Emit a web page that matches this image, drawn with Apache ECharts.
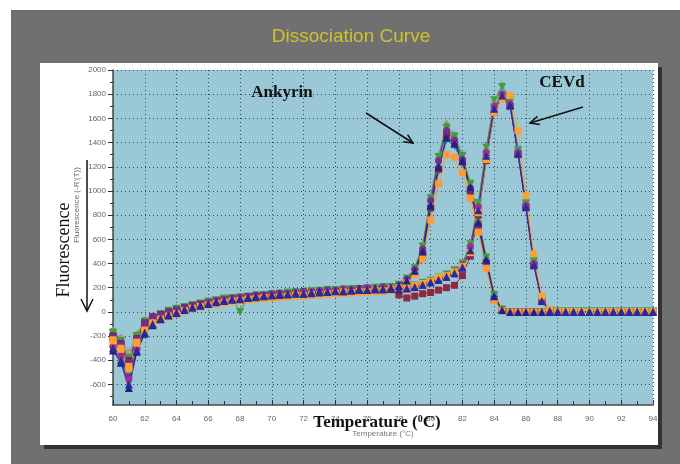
<!DOCTYPE html>
<html><head><meta charset="utf-8">
<script src="https://cdn.jsdelivr.net/npm/echarts@6/dist/echarts.min.js"></script>
<style>html,body{margin:0;padding:0;background:#fff}#c{width:680px;height:464px}</style>
</head><body><div id="c"></div>
<script>
const temps = [60,60.5,61,61.5,62,62.5,63,63.5,64,64.5,65,65.5,66,66.5,67,67.5,68,68.5,69,69.5,70,70.5,71,71.5,72,72.5,73,73.5,74,74.5,75,75.5,76,76.5,77,77.5,78,78.5,79,79.5,80,80.5,81,81.5,82,82.5,83,83.5,84,84.5,85,85.5,86,86.5,87,87.5,88,88.5,89,89.5,90,90.5,91,91.5,92,92.5,93,93.5,94];
const yLabelTicks = [-600,-400,-200,0,200,400,600,800,1000,1200,1400,1600,1800,2000];
const yMinorTicks = [-700,-600,-500,-400,-300,-200,-100,0,100,200,300,400,500,600,700,800,900,1000,1100,1200,1300,1400,1500,1600,1700,1800,1900,2000];

// Ankyrin wells
const ank1 = [-320,-420,-630,-330,-180,-110,-60,-30,-10,20,40,55,70,85,95,105,110,120,130,135,140,150,145,155,150,160,170,165,175,170,180,190,180,195,190,200, 215,260,340,500,880,1200,1440,1390,1250,1030,740,430,130,15,0,0,0,0,0,0, 0,0,0,0,0,0,0,0,0,0,0,0,0];
const ank2 = [-230,-300,-450,-250,-150,-90,-70,-40,-20,10,30,45,55,70,80,90,95,105,110,120,115,125,130,140,135,145,140,150,155,165,160,170,165,180,175,190, 200,240,310,440,760,1060,1300,1280,1150,940,660,360,90,10,0,0,0,0,0,0, 0,0,0,0,0,0,0,0,0,0,0,0,0];
const ank3 = [-280,-360,-540,-300,-140,-80,-40,-20,0,25,45,60,80,95,100,115,120,130,140,135,150,155,150,160,170,165,175,180,175,190,185,195,200,190,205,200, 220,270,350,520,920,1250,1500,1420,1260,1020,720,410,110,10,0,0,0,0,0,0, 0,0,0,0,0,0,0,0,0,0,0,0,0];
const ank4 = [-200,-260,-400,-220,-90,-40,-20,0,15,35,50,65,75,90,100,105,115,125,130,135,140,145,145,150,155,160,160,165,170,170,175,180,185,185,190,190, 210,255,330,480,860,1180,1460,1400,1240,1000,700,400,100,10,0,0,0,0,0,0, 0,0,0,0,0,0,0,0,0,0,0,0,0];
const ank5 = [-170,-240,-380,-200,-80,-50,-20,10,25,40,55,70,85,95,110,115,0,125,135,140,145,150,160,165,165,170,175,180,180,185,190,190,195,200,205,205, 225,275,360,540,940,1280,1520,1450,1290,1060,770,450,140,20,0,0,0,0,0,0, 0,0,0,0,0,0,0,0,0,0,0,0,0];
const ank6 = [-150,-210,-330,-180,-60,-30,-10,15,30,45,60,75,90,100,110,120,125,130,140,145,150,155,160,160,165,170,175,180,185,185,190,195,200,200,205,210, 230,280,370,560,960,1300,1560,1470,1300,1070,780,460,150,20,0,0,0,0,0,0, 0,0,0,0,0,0,0,0,0,0,0,0,0];
const ank7 = [-260,-330,-500,-280,-130,-70,-50,-20,5,20,40,55,65,80,90,100,105,115,120,130,135,140,145,145,150,155,160,160,165,170,175,175,180,185,190,190, 205,250,320,470,840,1160,1420,1370,1230,1000,710,400,110,10,0,0,0,0,0,0, 0,0,0,0,0,0,0,0,0,0,0,0,0];
const ank8 = [-220,-290,-460,-240,-110,-60,-30,-10,10,30,45,60,75,90,95,105,115,120,130,135,140,140,150,155,160,160,165,170,175,180,180,185,190,195,195,200, 220,270,360,530,930,1270,1540,1440,1270,1040,750,440,130,15,0,0,0,0,0,0, 0,0,0,0,0,0,0,0,0,0,0,0,0];

// CEVd wells
const cev1 = [-300,-400,-600,-320,-170,-100,-55,-25,-5,15,35,50,65,80,90,100,105,115,120,130,135,140,145,150,150,155,160,165,170,170,175,180,180,185,185,190, 185,195,205,225,245,265,290,320,370,510,840,1290,1680,1790,1710,1310,870,390,90,10, 3,2,2,2,2,2,2,2,2,2,2,2,2];
const cev2 = [-240,-310,-470,-260,-160,-100,-60,-35,-15,5,25,40,55,65,75,85,90,100,105,110,115,120,125,130,130,135,140,145,150,150,155,160,165,165,170,175, 190,205,220,235,255,285,300,330,375,490,820,1260,1650,1760,1790,1500,960,480,130,20, 5,3,3,3,3,3,3,3,3,3,3,3,3];
const cev3 = [-290,-370,-560,-310,-150,-85,-45,-20,0,20,40,55,75,90,100,110,115,125,130,140,145,150,150,155,160,165,170,170,175,180,185,185,190,190,195,195, 190,200,215,235,255,275,305,335,390,540,870,1320,1700,1800,1720,1320,880,400,95,10, 4,2,2,2,2,2,2,2,2,2,2,2,2];
const cev4 = [-210,-270,-420,-230,-100,-45,-25,-5,15,30,50,60,75,85,95,105,110,120,125,130,135,140,145,150,150,155,160,160,165,170,170,175,180,180,185,185, 180,190,200,220,240,260,285,315,360,500,820,1270,1660,1770,1700,1300,860,380,85,10, 3,2,2,2,2,2,2,2,2,2,2,2,2];
const cev5 = [-180,-250,-390,-210,-85,-50,-25,5,20,40,55,65,80,95,105,110,120,125,130,140,145,150,155,160,160,165,170,175,175,180,185,185,190,190,195,200, 190,205,220,240,260,285,310,345,400,560,900,1360,1750,1860,1750,1330,890,410,100,15, 5,3,3,3,3,3,3,3,3,3,3,3,3];
const cev6 = [-160,-220,-340,-190,-70,-35,-15,10,25,45,60,70,85,100,110,115,125,130,135,145,150,150,155,160,165,170,170,175,180,185,185,190,195,195,200,200, 195,205,215,235,255,280,300,335,390,550,890,1350,1740,1880,1760,1340,900,420,105,15, 4,3,3,3,3,3,3,3,3,3,3,3,3];
const cev7 = [-250,-320,-490,-270,-120,-70,-45,-20,0,20,35,50,65,75,85,95,100,110,115,125,130,135,140,145,145,150,155,160,160,165,170,170,175,180,180,185, 180,190,205,225,245,265,295,325,375,520,850,1300,1690,1800,1730,1340,900,420,110,15, 4,3,3,3,3,3,3,3,3,3,3,3,3];
const cev8 = [-200,-280,-430,-240,-105,-55,-30,-5,10,30,45,60,70,85,95,100,110,120,125,130,140,140,145,150,155,160,160,165,170,175,175,180,185,185,190,190, 140,115,130,150,160,180,200,220,300,460,800,1250,1650,1770,1700,1310,870,390,90,10, 3,2,2,2,2,2,2,2,2,2,2,2,2];

const wells = [
  {name:'A6', data:ank6, color:'#9c9c9c', symbol:'diamond', rot:0},
  {name:'C6', data:cev6, color:'#a0a0a0', symbol:'diamond', rot:0},
  {name:'A8', data:ank8, color:'#8c6a30', symbol:'diamond', rot:0},
  {name:'A7', data:ank7, color:'#2a9ca0', symbol:'triangle', rot:180},
  {name:'C7', data:cev7, color:'#30a0a0', symbol:'triangle', rot:180},
  {name:'A5', data:ank5, color:'#3c9c3c', symbol:'triangle', rot:180},
  {name:'C5', data:cev5, color:'#40a040', symbol:'triangle', rot:180},
  {name:'A4', data:ank4, color:'#8c2040', symbol:'rect', rot:0},
  {name:'C8', data:cev8, color:'#8c2a40', symbol:'rect', rot:0},
  {name:'C4', data:cev4, color:'#6a3090', symbol:'rect', rot:0},
  {name:'A3', data:ank3, color:'#7a2a8c', symbol:'circle', rot:0},
  {name:'C3', data:cev3, color:'#a0308c', symbol:'circle', rot:0},
  {name:'A2', data:ank2, color:'#ff9933', symbol:'rect', rot:0},
  {name:'C2', data:cev2, color:'#ffa030', symbol:'rect', rot:0},
  {name:'A1', data:ank1, color:'#20208c', symbol:'triangle', rot:0},
  {name:'C1', data:cev1, color:'#2a2a9a', symbol:'triangle', rot:0}
];

const chart = echarts.init(document.getElementById('c'), null, {renderer:'canvas'});
const sans = '"Liberation Sans", Arial, sans-serif';
const serif = '"Liberation Serif", "Times New Roman", serif';
const gridLine = {show:true, lineStyle:{type:[1,3], color:'#2c4a5a', width:1}};

chart.setOption({
  animation:false,
  backgroundColor:'#ffffff',
  grid:{left:113, right:27, top:70, bottom:59, show:true, backgroundColor:'#9ac8d6', borderWidth:0},
  xAxis:{type:'value', min:60, max:94, interval:2,
    axisLine:{show:true, onZero:false, lineStyle:{color:'#4a4a4a', width:1.5}},
    axisTick:{show:true, inside:true, length:5, lineStyle:{color:'#333'}},
    minorTick:{show:true, splitNumber:2, length:4, lineStyle:{color:'#333'}},
    axisLabel:{fontSize:8, color:'#666', margin:10, fontFamily:sans, formatter:v=>String(v)},
    splitLine:gridLine},
  yAxis:[
    {type:'value', min:-770, max:2000,
      axisLine:{show:true, onZero:false, lineStyle:{color:'#4a4a4a', width:1.5}},
      axisTick:{show:true, customValues:yMinorTicks, length:3, lineStyle:{color:'#333'}},
      axisLabel:{show:false}, splitLine:{show:false}},
    {type:'value', min:-770, max:2000, position:'left',
      axisLine:{show:false},
      axisTick:{show:true, customValues:yLabelTicks, length:5, lineStyle:{color:'#333'}},
      axisLabel:{customValues:yLabelTicks, fontSize:8, color:'#666', margin:7, fontFamily:sans, formatter:v=>String(v)},
      splitLine:gridLine}
  ],
  series: wells.map(w => ({
    type:'line', name:w.name, yAxisIndex:0,
    data: temps.map((t,i) => [t, w.data[i]]),
    symbol:w.symbol, symbolRotate:w.rot,
    symbolSize: w.symbol==='triangle' ? 8 : 7,
    showAllSymbol:true,
    lineStyle:{color:w.color, width:1},
    itemStyle:{color:w.color, borderWidth:0},
    emphasis:{disabled:true}, z:3
  })),
  graphic:[
    {type:'rect', z:-10, silent:true, shape:{x:11,y:10,width:669,height:454}, style:{fill:'#707070'}},
    {type:'rect', z:-9, silent:true, shape:{x:44,y:67,width:618,height:382}, style:{fill:'#333333'}},
    {type:'rect', z:-8, silent:true, shape:{x:40,y:63,width:618,height:382}, style:{fill:'#ffffff'}},
    {type:'text', z:50, x:351, y:37, style:{text:'Dissociation Curve', font:'19px '+sans, fill:'#cbc22c', textAlign:'center', textVerticalAlign:'middle'}},
    {type:'text', z:50, x:383, y:434, style:{text:'Temperature (°C)', font:'8px '+sans, fill:'#777', textAlign:'center', textVerticalAlign:'middle'}},
    {type:'text', z:51, x:377, y:423, style:{text:'{a|Temperature (}{s|0}{a|C)}', textAlign:'center', textVerticalAlign:'middle',
      rich:{a:{font:'bold 17px '+serif, fill:'#111'}, s:{font:'bold 10px '+serif, fill:'#111', verticalAlign:'top'}}}},
    {type:'text', z:50, x:77, y:205, rotation:Math.PI/2, style:{text:"Fluorescence (-R'(T))", font:'8px '+sans, fill:'#666', textAlign:'center', textVerticalAlign:'middle'}},
    {type:'text', z:51, x:64, y:250, rotation:Math.PI/2, style:{text:'Fluorescence', font:'18px '+serif, fill:'#111', textAlign:'center', textVerticalAlign:'middle'}},
    {type:'line', z:51, shape:{x1:87,y1:160,x2:87,y2:310}, style:{stroke:'#111', lineWidth:1.5}},
    {type:'polyline', z:51, shape:{points:[[81,299],[87,311],[93,299]]}, style:{stroke:'#111', lineWidth:1.5, fill:null}},
    {type:'text', z:51, x:282, y:93, style:{text:'Ankyrin', font:'bold 17px '+serif, fill:'#111', textAlign:'center', textVerticalAlign:'middle'}},
    {type:'line', z:51, shape:{x1:366,y1:113,x2:413,y2:143}, style:{stroke:'#111', lineWidth:1.5}},
    {type:'polyline', z:51, shape:{points:[[407.6,134.6],[413,143],[403.1,141.7]]}, style:{stroke:'#111', lineWidth:1.5, fill:null}},
    {type:'text', z:51, x:562, y:83, style:{text:'CEVd', font:'bold 17px '+serif, fill:'#111', textAlign:'center', textVerticalAlign:'middle'}},
    {type:'line', z:51, shape:{x1:583,y1:107,x2:530,y2:123}, style:{stroke:'#111', lineWidth:1.5}},
    {type:'polyline', z:51, shape:{points:[[539.9,124.4],[530,123],[537.5,116.3]]}, style:{stroke:'#111', lineWidth:1.5, fill:null}}
  ]
});
</script></body></html>
